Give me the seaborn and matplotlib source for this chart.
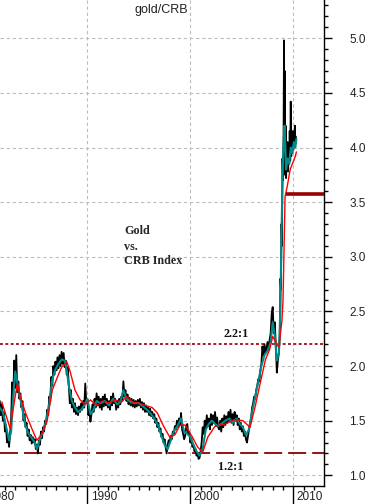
import numpy as np
import pandas as pd
import matplotlib
matplotlib.use("Agg")
import matplotlib.pyplot as plt
import matplotlib.transforms as mtransforms
from matplotlib.ticker import MultipleLocator, FixedLocator, FormatStrFormatter
import seaborn as sns

# ---------------- data ----------------
# black: gold/CRB ratio, sampled every 0.1 year from 1981.5 (one year per row)
black_start = 1981.5
black_step = 0.1
black_values = [
    1.68, 1.55, 1.65, 1.50, 1.58, 1.40, 1.46, 1.30, 1.36, 1.26,
    1.38, 1.52, 1.85, 1.68, 2.05, 1.80, 2.10, 1.76, 1.86, 1.70,
    1.75, 1.62, 1.68, 1.50, 1.56, 1.44, 1.48, 1.36, 1.42, 1.32,
    1.37, 1.29, 1.35, 1.30, 1.33, 1.24, 1.28, 1.20, 1.32, 1.28,
    1.40, 1.34, 1.44, 1.40, 1.50, 1.47, 1.60, 1.55, 1.72, 1.68,
    1.90, 1.82, 2.00, 1.92, 2.04, 1.96, 2.08, 1.98, 2.10, 2.00,
    2.13, 2.02, 2.12, 1.99, 2.05, 1.92, 1.99, 1.82, 1.66, 1.78,
    1.62, 1.70, 1.58, 1.66, 1.56, 1.62, 1.55, 1.63, 1.58, 1.66,
    1.60, 1.68, 1.62, 1.84, 1.66, 1.70, 1.55, 1.60, 1.49, 1.56,
    1.65, 1.58, 1.70, 1.62, 1.75, 1.64, 1.72, 1.62, 1.70, 1.60,
    1.72, 1.63, 1.74, 1.64, 1.70, 1.62, 1.68, 1.60, 1.72, 1.64,
    1.75, 1.66, 1.70, 1.60, 1.68, 1.62, 1.70, 1.65, 1.72, 1.68,
    1.86, 1.72, 1.78, 1.68, 1.74, 1.65, 1.71, 1.64, 1.70, 1.63,
    1.69, 1.62, 1.68, 1.63, 1.69, 1.64, 1.70, 1.62, 1.67, 1.60,
    1.66, 1.58, 1.64, 1.58, 1.62, 1.55, 1.61, 1.54, 1.58, 1.52,
    1.56, 1.48, 1.52, 1.44, 1.48, 1.40, 1.43, 1.35, 1.38, 1.30,
    1.33, 1.26, 1.20, 1.28, 1.32, 1.30, 1.36, 1.33, 1.40, 1.38,
    1.45, 1.42, 1.50, 1.44, 1.52, 1.46, 1.57, 1.42, 1.38, 1.33,
    1.36, 1.44, 1.47, 1.38, 1.40, 1.30, 1.34, 1.26, 1.28, 1.22,
    1.24, 1.18, 1.20, 1.15, 1.16, 1.22, 1.30, 1.44, 1.38, 1.50,
    1.42, 1.55, 1.45, 1.52, 1.42, 1.56, 1.46, 1.55, 1.48, 1.58,
    1.45, 1.53, 1.44, 1.42, 1.50, 1.40, 1.52, 1.44, 1.55, 1.46,
    1.54, 1.48, 1.58, 1.50, 1.60, 1.48, 1.56, 1.46, 1.58, 1.50,
    1.55, 1.46, 1.52, 1.42, 1.48, 1.40, 1.45, 1.36, 1.40, 1.33,
    1.30, 1.36, 1.42, 1.48, 1.52, 1.62, 1.66, 1.72, 1.70, 1.78,
    1.82, 1.88, 1.86, 1.96, 2.02, 2.18, 2.10, 2.20, 2.12, 2.16,
    2.22, 2.15, 2.24, 2.30, 2.48, 2.54, 2.30, 2.40, 2.20, 1.94,
    2.05, 2.12, 2.30,
]
# black, final weekly-like segment (late 2008 spike onward)
black_end_years = [2008.75, 2008.8, 2008.85, 2008.9, 2008.95, 2009.0, 2009.05,
                   2009.1, 2009.13, 2009.17, 2009.2, 2009.25, 2009.3, 2009.35,
                   2009.4, 2009.45, 2009.5, 2009.55, 2009.6, 2009.65, 2009.7,
                   2009.75, 2009.8, 2009.85, 2009.9, 2009.95, 2010.0, 2010.05,
                   2010.1, 2010.15, 2010.2, 2010.25]
black_end_values = [2.80, 2.70, 3.30, 3.10, 3.90, 3.70, 4.05,
                    4.98, 3.90, 4.70, 3.75, 4.20, 3.72, 3.95,
                    3.80, 4.05, 3.78, 4.00, 3.85, 4.15, 3.88,
                    4.42, 3.92, 4.10, 3.95, 4.15, 3.98, 4.12,
                    4.02, 4.20, 4.03, 4.10]

# teal: short moving average
teal_years = [1981.5, 1981.8, 1982.1, 1982.4, 1982.6, 1982.8, 1983.0, 1983.2,
              1983.5, 1983.8, 1984.0, 1984.3, 1984.6, 1984.9, 1985.1, 1985.4,
              1985.7, 1986.0, 1986.3, 1986.6, 1986.9, 1987.2, 1987.5, 1987.8,
              1988.0, 1988.2, 1988.5, 1988.8, 1989.1, 1989.4, 1989.7, 1990.0,
              1990.3, 1990.6, 1990.9, 1991.3, 1991.7, 1992.1, 1992.5, 1992.9,
              1993.2, 1993.5, 1993.8, 1994.2, 1994.6, 1995.0, 1995.4, 1995.8,
              1996.1, 1996.5, 1996.9, 1997.2, 1997.5, 1997.8, 1998.1, 1998.4,
              1998.8, 1999.1, 1999.4, 1999.7, 2000.0, 2000.3, 2000.6, 2000.9,
              2001.2, 2001.5, 2001.8, 2002.1, 2002.4, 2002.7, 2003.0, 2003.4,
              2003.8, 2004.1, 2004.5, 2004.8, 2005.1, 2005.4, 2005.7, 2006.0,
              2006.3, 2006.6, 2006.9, 2007.2, 2007.5, 2007.8, 2008.0, 2008.2,
              2008.4, 2008.6, 2008.75, 2008.85, 2008.95, 2009.05, 2009.15,
              2009.3, 2009.45, 2009.6, 2009.75, 2009.9, 2010.05, 2010.2, 2010.3]
teal_values = [1.62, 1.58, 1.45, 1.32, 1.40, 1.72, 1.95, 1.85,
               1.70, 1.55, 1.45, 1.38, 1.34, 1.30, 1.24, 1.33,
               1.40, 1.50, 1.65, 1.88, 1.97, 2.02, 2.06, 2.05,
               1.96, 1.82, 1.68, 1.62, 1.58, 1.60, 1.64, 1.70,
               1.56, 1.60, 1.68, 1.66, 1.68, 1.64, 1.70, 1.65,
               1.67, 1.78, 1.70, 1.67, 1.66, 1.66, 1.63, 1.60,
               1.57, 1.52, 1.45, 1.36, 1.28, 1.24, 1.32, 1.40,
               1.46, 1.52, 1.40, 1.38, 1.35, 1.28, 1.22, 1.18,
               1.24, 1.42, 1.47, 1.50, 1.47, 1.45, 1.47, 1.50,
               1.52, 1.48, 1.52, 1.47, 1.44, 1.37, 1.42, 1.58,
               1.72, 1.86, 2.00, 2.10, 2.14, 2.22, 2.40, 2.28,
               2.05, 2.12, 2.55, 3.20, 3.70, 4.05, 4.20,
               3.80, 3.90, 3.85, 4.00, 3.95, 4.05, 4.00, 4.08]

# red: long moving average
red_years = [1981.7, 1982.5, 1983.2, 1983.5, 1984.0, 1984.6, 1985.1, 1985.6,
             1986.1, 1986.6, 1987.1, 1987.5, 1988.0, 1988.3, 1988.8, 1989.3,
             1989.8, 1990.3, 1990.9, 1991.5, 1992.1, 1992.7, 1993.3, 1993.8,
             1994.4, 1995.0, 1995.6, 1996.3, 1996.8, 1997.4, 1998.0, 1998.5,
             1999.0, 1999.5, 2000.2, 2000.7, 2001.2, 2001.7, 2002.4, 2003.4,
             2004.3, 2005.1, 2005.8, 2006.3, 2006.8, 2007.3, 2007.7, 2008.0,
             2008.4, 2008.6, 2008.9, 2009.0, 2009.2, 2009.4, 2009.7, 2010.2,
             2010.3]
red_values = [1.67, 1.43, 1.84, 1.72, 1.57, 1.43, 1.32, 1.38,
              1.50, 1.78, 1.90, 1.99, 2.04, 1.96, 1.78, 1.69,
              1.65, 1.69, 1.64, 1.68, 1.66, 1.69, 1.67, 1.72,
              1.67, 1.66, 1.64, 1.62, 1.57, 1.45, 1.35, 1.37,
              1.46, 1.46, 1.35, 1.26, 1.21, 1.35, 1.45, 1.47,
              1.51, 1.50, 1.44, 1.63, 1.85, 2.06, 2.15, 2.27,
              2.20, 2.17, 2.42, 2.60, 3.55, 3.64, 3.80, 3.92,
              3.96]

ratio_high = 2.2
ratio_low = 1.2
support_level = 3.575
support_start = 2009.3

decade_labels = ["1980", "1990", "2000", "2010"]
decade_ticks = [1980, 1990, 2000, 2010]
y_ticks = [1.0, 1.5, 2.0, 2.5, 3.0, 3.5, 4.0, 4.5, 5.0]

# ---------------- frames ----------------
black_years = black_start + black_step * np.arange(len(black_values))
black_df = pd.DataFrame({
    "year": np.concatenate([black_years, black_end_years]),
    "ratio": np.concatenate([black_values, black_end_values]),
})
teal_df = pd.DataFrame({"year": teal_years, "ratio": teal_values})
red_df = pd.DataFrame({"year": red_years, "ratio": red_values})

# ---------------- style ----------------
sns.set_style("white")
plt.rcParams["font.family"] = ["Liberation Sans", "DejaVu Sans"]

W, H, DPI = 371, 504, 100
fig = plt.figure(figsize=(W / DPI, H / DPI), dpi=DPI)
ax = fig.add_axes([0, 18 / H, 324 / W, 486 / H])

ax.set_xlim(1981.52, 2012.98)
ax.set_ylim(0.902, 5.35)

# grid
ax.grid(True, which="major", color="#bdbdbd", linestyle=(0, (3, 2.5)), linewidth=0.8)
ax.set_axisbelow(True)

# reference ratio lines
ax.axhline(ratio_high, color="#990000", linestyle=(0, (1.8, 1.4)), linewidth=1.2, zorder=2)
ax.axhline(ratio_low, color="#8b0000", linestyle=(0, (10, 3.3)), linewidth=1.3, zorder=2)

# data lines
sns.lineplot(data=black_df, x="year", y="ratio", ax=ax, color="black",
             linewidth=1.3, sort=False, estimator=None, zorder=3)
sns.lineplot(data=teal_df, x="year", y="ratio", ax=ax, color="#008b8b",
             linewidth=1.5, sort=False, estimator=None, zorder=4)
sns.lineplot(data=red_df, x="year", y="ratio", ax=ax, color="#ff0000",
             linewidth=1.0, sort=False, estimator=None, zorder=5)

# support line
ax.hlines(support_level, support_start, ax.get_xlim()[1], color="#990000",
          linewidth=2.6, zorder=6)

ax.set_xlabel("")
ax.set_ylabel("")

# spines
for s in ["top", "left"]:
    ax.spines[s].set_visible(False)
for s in ["right", "bottom"]:
    ax.spines[s].set_visible(True)
    ax.spines[s].set_color("black")
    ax.spines[s].set_linewidth(1.0)

# y axis on the right
ax.yaxis.tick_right()
ax.yaxis.set_major_locator(FixedLocator(y_ticks))
ax.yaxis.set_minor_locator(MultipleLocator(0.1))
ax.yaxis.set_major_formatter(FormatStrFormatter("%.1f"))
ax.tick_params(axis="y", which="major", direction="out", length=5.8, width=1.0,
               color="black", labelsize=8.5, labelcolor="#222222", pad=12.5,
               left=False, right=True)
ax.tick_params(axis="y", which="minor", direction="out", length=2.6, width=1.0,
               color="black", left=False, right=True)

# x axis
ax.xaxis.set_major_locator(FixedLocator(decade_ticks[1:]))
ax.xaxis.set_minor_locator(MultipleLocator(1))
ax.set_xticklabels(decade_labels[1:])
ax.tick_params(axis="x", which="major", direction="out", length=13, width=1.0,
               color="black", labelsize=8.5, labelcolor="#222222", pad=-9.4,
               bottom=True, top=False)
ax.tick_params(axis="x", which="minor", direction="out", length=2.9, width=1.0,
               color="black", bottom=True, top=False)
offset = mtransforms.ScaledTranslation(3.5 / DPI, 0, fig.dpi_scale_trans)
for lbl in ax.get_xticklabels():
    lbl.set_horizontalalignment("left")
    lbl.set_transform(lbl.get_transform() + offset)

# 1980 label (its tick lies left of the visible range)
trans80 = mtransforms.blended_transform_factory(ax.transData, ax.transAxes) + \
    mtransforms.ScaledTranslation(3.5 / DPI, -5 / DPI, fig.dpi_scale_trans)
ax.text(decade_ticks[0], 0, decade_labels[0], transform=trans80, ha="left", va="top",
        fontsize=8.5, color="#222222", clip_on=False)

# annotations
ax.text(1997.16, 5.26, "gold/CRB", ha="center", va="center", fontsize=9, color="#222222")
serif = ["Liberation Serif", "DejaVu Serif"]
ax.text(1993.56, 3.236, "Gold", ha="left", va="center", fontsize=8.7,
        fontweight="bold", family=serif)
ax.text(1993.56, 3.09, "vs.", ha="left", va="center", fontsize=8.7,
        fontweight="bold", family=serif)
ax.text(1993.56, 2.96, "CRB Index", ha="left", va="center", fontsize=8.7,
        fontweight="bold", family=serif)
ax.text(2004.44, 2.29, "2.2:1", ha="center", va="center", fontsize=8.7,
        fontweight="bold", family=serif, color="#111111")
ax.text(2003.95, 1.076, "1.2:1", ha="center", va="center", fontsize=8.7,
        fontweight="bold", family=serif, color="#111111")

fig.savefig("out.png", dpi=DPI, facecolor="white")
